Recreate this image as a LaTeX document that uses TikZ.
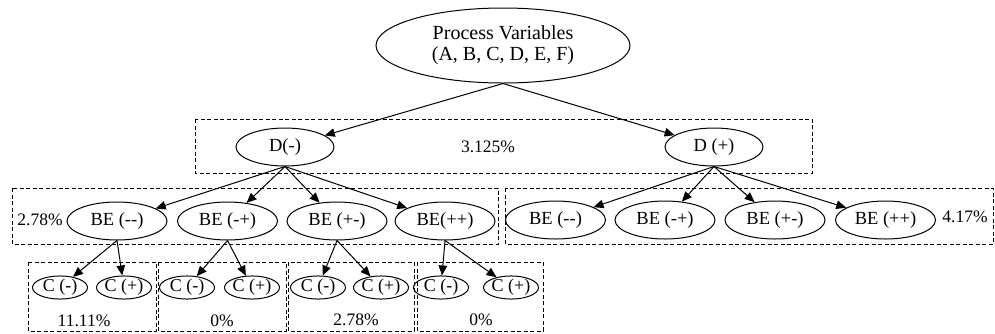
\documentclass[tikz,border=0pt]{standalone}
\usepackage{fontspec}
\setmainfont{Liberation Serif}
\usetikzlibrary{shapes.geometric,arrows.meta}
\begin{document}
\begin{tikzpicture}[x=1pt,y=-1pt,
  ell/.style={ellipse,draw,line width=1pt,inner sep=0pt,font=\fontsize{18.5}{20}\selectfont},
  topell/.style={ell,minimum width=254pt,minimum height=75pt,font=\fontsize{20}{21}\selectfont,align=center},
  dell/.style={ell,minimum width=98pt,minimum height=38pt},
  beell/.style={ell,minimum width=100pt,minimum height=38pt},
  cell/.style={ell,minimum width=55pt,minimum height=21pt,font=\fontsize{18}{19}\selectfont},
  grp/.style={draw,dashed,dash pattern=on 4pt off 2.5pt,line width=1pt},
  pct/.style={inner sep=0pt,font=\fontsize{17.5}{19}\selectfont},
  arr/.style={line width=1pt,-{Triangle[length=10pt,width=8.5pt]}}]
\useasboundingbox (0,0) rectangle (995,333);
% group boxes
\draw[grp] (195,119) rectangle (812,173);
\draw[grp] (12,188) rectangle (498,244);
\draw[grp] (505,188) rectangle (993,244);
\draw[grp] (28,262) rectangle (156,331);
\draw[grp] (158,262) rectangle (286,331);
\draw[grp] (288,262) rectangle (414,331);
\draw[grp] (417,262) rectangle (543,331);
% nodes
\node[topell] (top) at (503,45.5) {Process Variables\\(A, B, C, D, E, F)};
\node[dell] (dm) at (285,147) {D(-)};
\node[dell] (dp) at (714,147) {D (+)};
\node[beell] (l1) at (117,221) {BE (-{}-)};
\node[beell] (l2) at (227.5,221) {BE (-+)};
\node[beell] (l3) at (337,221) {BE (+-)};
\node[beell] (l4) at (445,221) {BE(++)};
\node[beell] (r1) at (555.5,220) {BE (-{}-)};
\node[beell] (r2) at (665,220) {BE (-+)};
\node[beell] (r3) at (775,220) {BE (+-)};
\node[beell] (r4) at (885.5,220) {BE (++)};
\node[cell] (c1m) at (60,287.5) {C (-)};
\node[cell] (c1p) at (124,287.5) {C (+)};
\node[cell] (c2m) at (187,287.5) {C (-)};
\node[cell] (c2p) at (252,287.5) {C (+)};
\node[cell] (c3m) at (318,287.5) {C (-)};
\node[cell] (c3p) at (381,287.5) {C (+)};
\node[cell] (c4m) at (441,287.5) {C (-)};
\node[cell] (c4p) at (511,287.5) {C (+)};
% labels
\node[pct] (p1) at (488,146.5) {3.125\%};
\node[pct] (p2) at (40,220) {2.78\%};
\node[pct] (p3) at (965,216.5) {4.17\%};
\node[pct] (p4) at (84,321) {11.11\%};
\node[pct] (p5) at (222,321) {0\%};
\node[pct] (p6) at (356,320) {2.78\%};
\node[pct] (p7) at (481,320) {0\%};
% arrows
\draw[arr] (top.south) -- (dm);
\draw[arr] (top.south) -- (dp);
\foreach \t in {l1,l2,l3,l4} \draw[arr] (dm.south) -- (\t);
\foreach \t in {r1,r2,r3,r4} \draw[arr] (dp.south) -- (\t);
\draw[arr] (l1.south) -- (c1m);
\draw[arr] (l1.south) -- (c1p);
\draw[arr] (l2.south) -- (c2m);
\draw[arr] (l2.south) -- (c2p);
\draw[arr] (l3.south) -- (c3m);
\draw[arr] (l3.south) -- (c3p);
\draw[arr] (l4.south) -- (c4m);
\draw[arr] (l4.south) -- (c4p);
\end{tikzpicture}
\end{document}
